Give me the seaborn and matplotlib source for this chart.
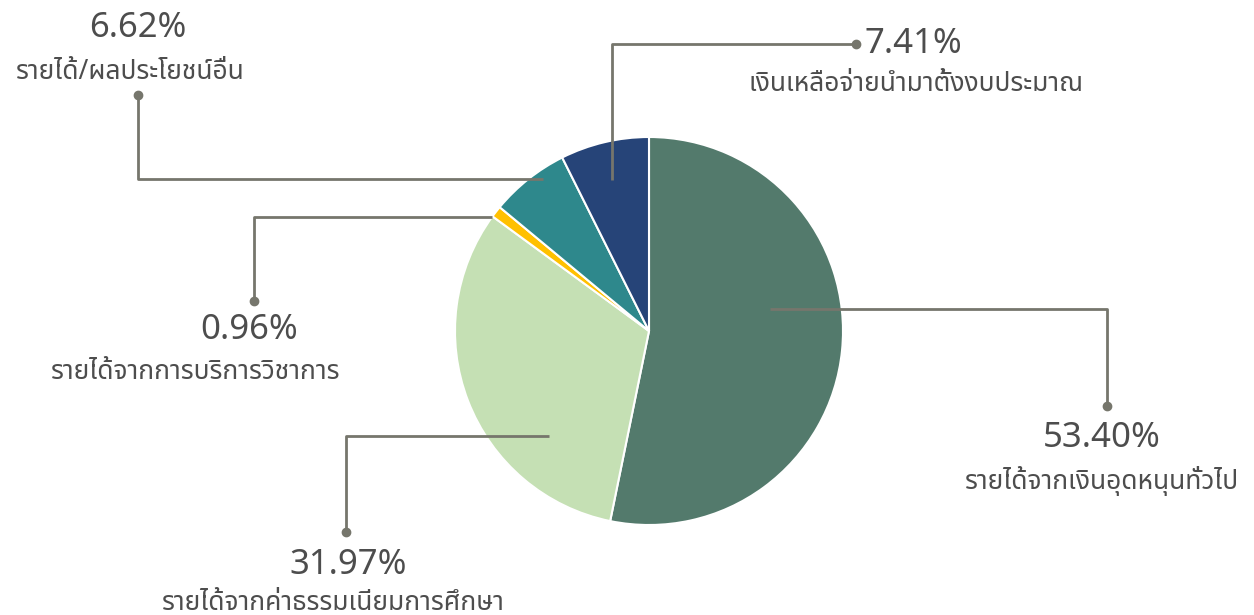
import matplotlib.pyplot as plt
import seaborn as sns

# ข้อมูลสัดส่วนรายได้
labels = [
    "รายได้จากเงินอุดหนุนทั่วไป",
    "รายได้จากค่าธรรมเนียมการศึกษา",
    "รายได้จากการบริการวิชาการ",
    "รายได้/ผลประโยชน์อื่น",
    "เงินเหลือจ่ายนำมาตั้งงบประมาณ",
]
shares = [53.40, 31.97, 0.96, 6.62, 7.41]
colors = ["#537A6C", "#C5E0B4", "#FFC000", "#2E888C", "#264478"]

sns.set_theme(style="white")
plt.rcParams['font.family'] = ['Noto Sans Thai', 'Noto Sans', 'DejaVu Sans']

W, H = 1254, 615
fig = plt.figure(figsize=(W / 100, H / 100), dpi=100)
ax = fig.add_axes([0, 0, 1, 1])

cx, cy, r = 649, H - 331, 194
ax.pie(shares, colors=colors, startangle=90, counterclock=False,
       center=(cx, cy), radius=r, frame=True,
       wedgeprops=dict(edgecolor='white', linewidth=1.5))
ax.set_xlim(0, W)
ax.set_ylim(0, H)
ax.set_aspect('equal')
ax.axis('off')

# เส้นชี้ (พิกัดพิกเซลจากด้านบน) และตำแหน่งข้อความ
leaders = [
    [(770, 309), (1107, 309), (1107, 406)],
    [(549, 436), (346, 436), (346, 532)],
    [(492, 217), (254, 217), (254, 301)],
    [(543, 179), (138, 179), (138, 95)],
    [(612, 180), (612, 44), (856, 44)],
]
pct_pos = [(1102, 438, 'center'), (348, 565, 'center'), (249, 330, 'center'),
           (138, 28, 'center'), (865, 44, 'left')]
txt_pos = [(1102, 481, 'center'), (333, 603, 'center'), (196, 372, 'center'),
           (130, 72, 'center'), (916, 84, 'center')]

line_col = "#76766C"
text_col = "#4D4D4D"
for pts, (px, py, pha), (tx, ty, tha), lab, v in zip(leaders, pct_pos, txt_pos, labels, shares):
    xs = [p[0] for p in pts]
    ys = [H - p[1] for p in pts]
    ax.plot(xs, ys, color=line_col, lw=2, solid_capstyle='butt')
    ax.plot(xs[-1], ys[-1], 'o', color=line_col, ms=6)
    ax.text(px, H - py, f"{v:.2f}%", ha=pha, va='center', fontsize=25,
            style='italic', fontweight='medium', color=text_col)
    ax.text(tx, H - ty, lab, ha=tha, va='center', fontsize=19,
            style='italic', color=text_col)

fig.savefig("out.png", dpi=100)
plt.close(fig)
